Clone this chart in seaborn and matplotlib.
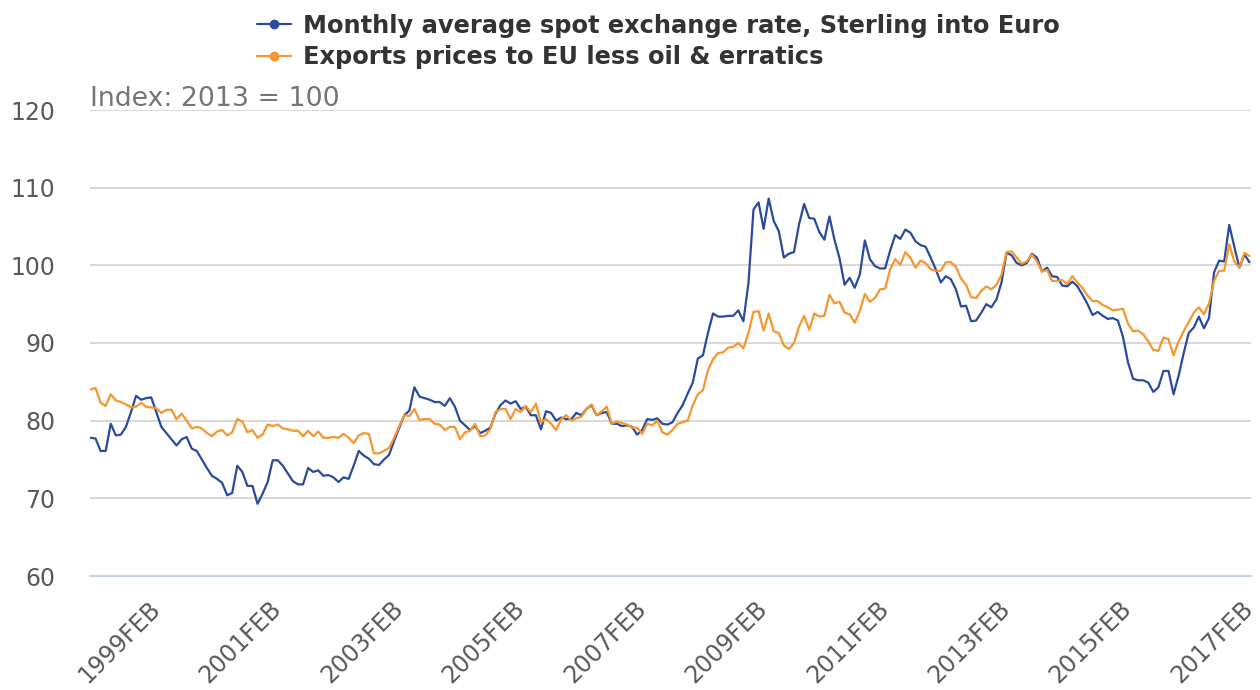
import pandas as pd
import matplotlib
matplotlib.use("Agg")
import matplotlib.pyplot as plt
from matplotlib.lines import Line2D
import seaborn as sns

# monthly, 1998JAN .. 2017FEB
months = pd.period_range("1998-01", "2017-02", freq="M")
month_labels = [p.strftime("%Y") + p.strftime("%b").upper() for p in months]

spot_rate = [
    77.8, 77.7, 76.1, 76.1, 79.6, 78.1, 78.2, 79.2, 81.1, 83.2,
    82.7, 82.9, 83.0, 81.1, 79.2, 78.4, 77.6, 76.8, 77.6, 77.9,
    76.4, 76.1, 75.0, 73.9, 72.9, 72.5, 72.0, 70.4, 70.7, 74.2,
    73.4, 71.6, 71.6, 69.3, 70.6, 72.1, 74.9, 74.9, 74.2, 73.2,
    72.2, 71.8, 71.8, 73.9, 73.4, 73.6, 72.9, 73.0, 72.7, 72.1,
    72.7, 72.5, 74.2, 76.1, 75.5, 75.1, 74.4, 74.3, 75.0, 75.6,
    77.4, 79.1, 80.7, 81.3, 84.3, 83.1, 82.9, 82.7, 82.4, 82.4,
    81.9, 82.9, 81.8, 80.0, 79.4, 78.8, 79.3, 78.4, 78.7, 79.1,
    80.9, 82.0, 82.6, 82.2, 82.5, 81.5, 81.8, 80.7, 80.7, 78.9,
    81.2, 81.0, 80.0, 80.4, 80.2, 80.2, 81.0, 80.7, 81.5, 82.0,
    80.7, 81.0, 81.1, 79.6, 79.6, 79.3, 79.4, 79.2, 78.2, 78.8,
    80.2, 80.1, 80.3, 79.6, 79.5, 79.8, 81.0, 82.0, 83.5, 84.9,
    88.0, 88.4, 91.3, 93.8, 93.4, 93.4, 93.5, 93.5, 94.2, 92.8,
    97.7, 107.2, 108.1, 104.7, 108.6, 105.7, 104.4, 101.0, 101.5, 101.7,
    105.3, 107.9, 106.1, 106.0, 104.3, 103.3, 106.3, 103.3, 100.9, 97.5,
    98.4, 97.1, 98.8, 103.2, 100.8, 99.9, 99.6, 99.6, 101.9, 103.9,
    103.4, 104.6, 104.2, 103.1, 102.6, 102.4, 101.0, 99.5, 97.8, 98.6,
    98.2, 96.9, 94.7, 94.8, 92.8, 92.9, 93.9, 95.0, 94.6, 95.6,
    97.8, 101.6, 101.3, 100.3, 100.0, 100.3, 101.5, 101.0, 99.2, 99.7,
    98.6, 98.5, 97.4, 97.3, 97.9, 97.3, 96.2, 95.0, 93.6, 94.0,
    93.5, 93.1, 93.2, 92.9, 90.8, 87.5, 85.4, 85.2, 85.2, 84.9,
    83.7, 84.3, 86.4, 86.4, 83.4, 85.8, 88.7, 91.3, 92.0, 93.4,
    91.9, 93.2, 99.1, 100.6, 100.5, 105.2, 102.4, 99.7, 101.4, 100.4,
]

export_prices = [
    84.0, 84.2, 82.3, 81.9, 83.4, 82.6, 82.4, 82.1, 81.7, 81.8,
    82.3, 81.8, 81.7, 81.6, 81.0, 81.4, 81.4, 80.2, 80.9, 80.0,
    79.0, 79.2, 79.0, 78.4, 78.0, 78.6, 78.8, 78.1, 78.5, 80.2,
    79.9, 78.5, 78.8, 77.8, 78.2, 79.5, 79.3, 79.5, 79.0, 78.9,
    78.7, 78.7, 78.0, 78.7, 78.0, 78.6, 77.8, 77.8, 77.9, 77.8,
    78.3, 77.8, 77.1, 78.1, 78.4, 78.3, 75.8, 75.8, 76.1, 76.5,
    77.8, 79.3, 80.7, 80.6, 81.5, 80.1, 80.2, 80.2, 79.6, 79.5,
    78.8, 79.2, 79.2, 77.6, 78.5, 78.7, 79.6, 78.0, 78.1, 78.9,
    81.1, 81.5, 81.5, 80.2, 81.5, 81.1, 81.9, 81.1, 82.2, 79.8,
    80.2, 79.6, 78.8, 80.2, 80.7, 80.0, 80.3, 80.5, 81.5, 82.1,
    80.7, 81.2, 81.8, 79.6, 79.9, 79.7, 79.5, 79.1, 79.1, 78.3,
    79.6, 79.4, 80.0, 78.5, 78.2, 78.8, 79.6, 79.8, 80.0, 82.0,
    83.4, 83.9, 86.5, 87.9, 88.7, 88.8, 89.4, 89.5, 90.0, 89.3,
    91.3, 94.0, 94.1, 91.6, 93.8, 91.5, 91.3, 89.7, 89.2, 90.0,
    92.1, 93.5, 91.7, 93.8, 93.4, 93.5, 96.2, 95.1, 95.3, 93.9,
    93.7, 92.6, 94.1, 96.3, 95.3, 95.8, 96.9, 97.0, 99.5, 100.8,
    100.1, 101.7, 101.0, 99.7, 100.6, 100.3, 99.5, 99.3, 99.3, 100.4,
    100.4, 99.8, 98.3, 97.5, 95.9, 95.8, 96.7, 97.3, 96.9, 97.5,
    98.8, 101.7, 101.8, 101.0, 100.2, 100.5, 101.4, 100.5, 99.2, 99.4,
    98.0, 98.0, 98.1, 97.6, 98.6, 97.8, 97.1, 96.1, 95.4, 95.4,
    94.9, 94.6, 94.2, 94.3, 94.4, 92.5, 91.5, 91.6, 91.1, 90.2,
    89.1, 89.0, 90.7, 90.5, 88.4, 90.2, 91.5, 92.7, 93.9, 94.6,
    93.7, 95.1, 98.0, 99.3, 99.3, 102.7, 100.5, 99.7, 101.6, 101.2,
]

series_names = [
    "Monthly average spot exchange rate, Sterling into Euro",
    "Exports prices to EU less oil & erratics",
]
series_colors = ["#2b4a9b", "#f5962f"]
tick_labels = ["1999FEB", "2001FEB", "2003FEB", "2005FEB", "2007FEB",
               "2009FEB", "2011FEB", "2013FEB", "2015FEB", "2017FEB"]
y_ticks = [60, 70, 80, 90, 100, 110, 120]

df = pd.DataFrame({
    "month": month_labels,
    "pos": range(len(month_labels)),
    series_names[0]: spot_rate,
    series_names[1]: export_prices,
})
long_df = df.melt(id_vars=["month", "pos"], var_name="series", value_name="index")

sns.set_theme(style="white")
plt.rcParams["font.family"] = ["DejaVu Sans"]

fig = plt.figure(figsize=(12.6, 6.9), dpi=100)
ax = fig.add_axes([90 / 1260, 1 - 576 / 690, 1161 / 1260, 466 / 690])

palette = dict(zip(series_names, series_colors))
sns.lineplot(data=long_df, x="pos", y="index", hue="series", palette=palette,
             linewidth=1.6, legend=False, ax=ax)

ax.set_xlim(-0.1, 229.3)
ax.set_ylim(60, 120)
ax.set_yticks(y_ticks)
ax.set_xticks([month_labels.index(t) for t in tick_labels])
ax.set_xticklabels(tick_labels, rotation=45, ha="right", va="center",
                   rotation_mode="anchor")
ax.set_xlabel("")
ax.set_ylabel("")

ax.set_axisbelow(True)
ax.grid(axis="y", color="#d9d9d9", linewidth=1.5)
for side in ["top", "right", "left"]:
    ax.spines[side].set_visible(False)
ax.spines["bottom"].set_color("#c6d3e3")
ax.spines["bottom"].set_linewidth(1.5)

ax.tick_params(axis="x", length=15, width=1.5, color="#c6d3e3",
               labelsize=17, labelcolor="#595959", pad=6)
ax.tick_params(axis="y", length=0, labelsize=17, labelcolor="#595959", pad=25)

ax.text(0, 1.008, "Index: 2013 = 100", transform=ax.transAxes,
        fontsize=19.3, color="#757575", ha="left", va="baseline")

handles = [Line2D([], [], color=c, linewidth=1.6, marker="o", markersize=6)
           for c in series_colors]
leg = fig.legend(handles, series_names, loc="upper left",
                 bbox_to_anchor=(257 / 1260, 0.98), frameon=False,
                 prop={"size": 17.4, "weight": "bold"}, handlelength=1.4,
                 handletextpad=0.5, labelspacing=0.3, borderpad=0,
                 borderaxespad=0)
for t in leg.get_texts():
    t.set_color("#333333")

fig.savefig("out.png", dpi=100)
